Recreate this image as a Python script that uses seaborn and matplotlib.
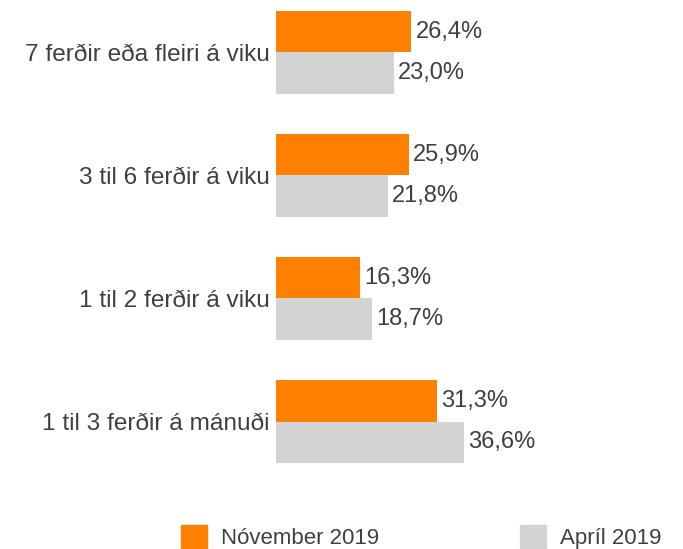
import pandas as pd
import matplotlib.pyplot as plt
import seaborn as sns

categories = ['7 ferðir eða fleiri á viku', '3 til 6 ferðir á viku',
              '1 til 2 ferðir á viku', '1 til 3 ferðir á mánuði']
series = ['Nóvember 2019', 'Apríl 2019']
nov_2019 = [26.4, 25.9, 16.3, 31.3]
apr_2019 = [23.0, 21.8, 18.7, 36.6]
colors = ['#FF8000', '#D3D3D3']

df = pd.DataFrame({
    'flokkur': categories * 2,
    'tímabil': [series[0]] * 4 + [series[1]] * 4,
    'hlutfall': nov_2019 + apr_2019,
})

sns.set_style('white')
plt.rcParams['font.family'] = ['Liberation Sans', 'DejaVu Sans']
text_color = '#404040'

fig = plt.figure(figsize=(6.83, 5.49), dpi=100)
ax = fig.add_axes([276 / 683, 1 - 480 / 549, 1 - 276 / 683, 480 / 549])

sns.barplot(data=df, y='flokkur', x='hlutfall', hue='tímabil', orient='h',
            palette=colors, width=0.672, saturation=1, linewidth=0,
            ax=ax, legend=False)

for cont in ax.containers:
    ax.bar_label(cont, labels=[f'{v:.1f}%'.replace('.', ',') for v in cont.datavalues],
                 padding=3, fontsize=17, color=text_color)

ax.set_xlim(0, (683 - 276) / 5.13)
ax.set_ylim(3.475, -0.425)
ax.set_xlabel('')
ax.set_ylabel('')
ax.set_xticks([])
ax.tick_params(axis='y', length=0, pad=4.5, labelsize=17.6, labelcolor=text_color)
sns.despine(ax=ax, left=True, bottom=True)

handles = [plt.Rectangle((0, 0), 1, 1, color=c) for c in colors]
fig.legend(handles, series, loc='center left', bbox_to_anchor=(181 / 683, 1 - 537 / 549),
           ncol=2, frameon=False, fontsize=16, labelcolor=text_color,
           handlelength=1.17, handleheight=1.17, handletextpad=0.63,
           columnspacing=6.35, borderaxespad=0, borderpad=0)

fig.savefig('out.png', dpi=100)
